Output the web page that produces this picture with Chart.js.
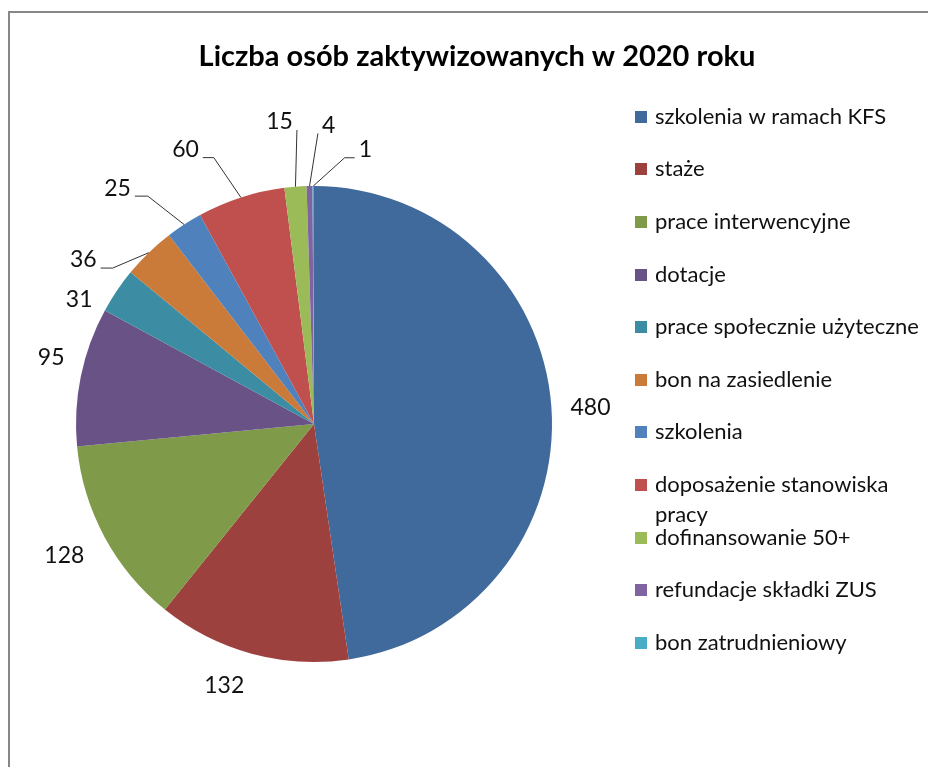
<!DOCTYPE html>
<html><head><meta charset="utf-8">
<script src="https://cdn.jsdelivr.net/npm/chart.js@4/dist/chart.umd.min.js"></script>
<style>html,body{margin:0;padding:0;background:#fff;}#wrap{width:928px;height:767px;position:relative;}</style>
</head><body><div id="wrap"><canvas id="c" width="928" height="767"></canvas></div>
<script>
const chartTitle = 'Liczba osób zaktywizowanych w 2020 roku';
const categories = ['szkolenia w ramach KFS','staże','prace interwencyjne','dotacje','prace społecznie użyteczne','bon na zasiedlenie','szkolenia','doposażenie stanowiska pracy','dofinansowanie 50+','refundacje składki ZUS','bon zatrudnieniowy'];
const values = [480,132,128,95,31,36,25,60,15,4,1];
const colors = ['#3F6A9B','#9D413F','#7F9A49','#695286','#3C8DA3','#CB7B39','#4F81BD','#C0504D','#9BBB59','#8064A2','#4BACC6'];
// label placement (style only): angle in degrees clockwise from top, distance from centre in px, leader horizontal length (null = no leader)
const labelAngle = [86.7,198.9,242.3,284.1,298.0,305.4,320.2,334.9,353.5,2.8,10.6];
const labelDist = [277,277,282,271,266,283,307,303,304,299,279];
const leaderLen = [null,null,null,null,null,12,13,11,0,0,10];

const FONT = 'Lato, "Open Sans", sans-serif';

const textPlugin = {
  id: 'textPlugin',
  beforeDraw(chart) {
    const ctx = chart.ctx;
    ctx.save();
    ctx.fillStyle = '#fff';
    ctx.fillRect(0, 0, chart.width, chart.height);
    ctx.strokeStyle = '#878787';
    ctx.lineWidth = 2;
    ctx.strokeRect(9, 12, 940, 780);
    ctx.restore();
  },
  afterDraw(chart) {
    const ctx = chart.ctx;
    ctx.save();
    // title
    ctx.fillStyle = '#000';
    ctx.font = 'bold 29px ' + FONT;
    ctx.textAlign = 'center';
    ctx.textBaseline = 'alphabetic';
    ctx.fillText(chartTitle, 477, 66);

    // data labels
    const meta = chart.getDatasetMeta(0);
    ctx.font = '23px ' + FONT;
    ctx.textAlign = 'center';
    ctx.textBaseline = 'middle';
    meta.data.forEach((arc, i) => {
      const cx = arc.x, cy = arc.y, R = arc.outerRadius;
      const th = labelAngle[i] * Math.PI / 180;
      const lx = cx + labelDist[i] * Math.sin(th);
      const ly = cy - labelDist[i] * Math.cos(th);
      const txt = String(values[i]);
      const w = ctx.measureText(txt).width;
      ctx.fillStyle = '#111';
      ctx.fillText(txt, lx, ly);
      if (leaderLen[i] !== null) {
        const mid = (arc.startAngle + arc.endAngle) / 2;
        const px = cx + R * Math.cos(mid), py = cy + R * Math.sin(mid);
        let sx, ex;
        const sy = ly + 8;
        if (lx < px) { sx = lx + w / 2 + 4; ex = sx + leaderLen[i]; }
        else { sx = lx - w / 2 - 4; ex = sx - leaderLen[i]; }
        ctx.strokeStyle = '#333';
        ctx.lineWidth = 1;
        ctx.beginPath();
        ctx.moveTo(sx, sy);
        ctx.lineTo(ex, sy);
        ctx.lineTo(px, py);
        ctx.stroke();
      }
    });

    // legend
    ctx.font = '22px ' + FONT;
    ctx.textAlign = 'left';
    ctx.textBaseline = 'middle';
    const maxW = 272;
    categories.forEach((lab, i) => {
      const y = 116.7 + 52.6 * i;
      ctx.fillStyle = colors[i];
      ctx.fillRect(635, Math.round(y - 6), 12, 12);
      ctx.fillStyle = '#111';
      const words = lab.split(' ');
      const lines = [];
      let cur = '';
      words.forEach(wd => {
        const t = cur ? cur + ' ' + wd : wd;
        if (ctx.measureText(t).width > maxW && cur) { lines.push(cur); cur = wd; }
        else cur = t;
      });
      lines.push(cur);
      lines.forEach((ln, k) => ctx.fillText(ln, 655, y + k * 30));
    });
    ctx.restore();
  }
};

new Chart(document.getElementById('c'), {
  type: 'pie',
  data: {
    labels: categories,
    datasets: [{ data: values, backgroundColor: colors, borderWidth: 0 }]
  },
  options: {
    responsive: false,
    animation: false,
    layout: { padding: { left: 76, right: 376, top: 186, bottom: 105 } },
    plugins: { legend: { display: false }, tooltip: { enabled: false }, title: { display: false } }
  },
  plugins: [textPlugin]
});
</script></body></html>
